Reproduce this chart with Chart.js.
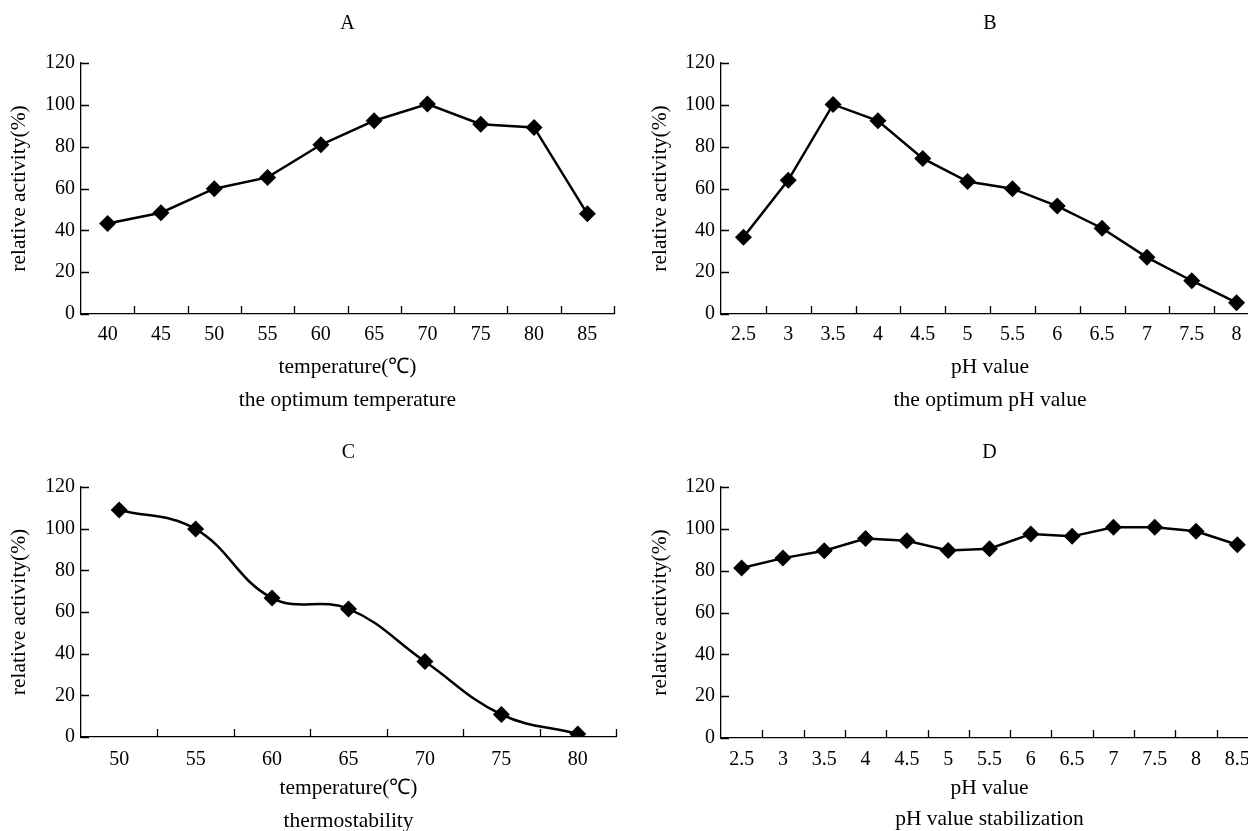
<!DOCTYPE html>
<html>
<head>
<meta charset="utf-8">
<script src="https://cdn.jsdelivr.net/npm/chart.js@4"></script>
<style>
  body { margin: 0; width: 1248px; height: 831px; overflow: hidden; background: #fff; position: relative; }
  canvas { position: absolute; }
</style>
</head>
<body>
<canvas id="chartA"></canvas>
<canvas id="chartB"></canvas>
<canvas id="chartC"></canvas>
<canvas id="chartD"></canvas>
<script>
// values
const tempA = ["40", "45", "50", "55", "60", "65", "70", "75", "80", "85"];
const activityA = [43.3, 48.4, 59.9, 65.3, 80.9, 92.4, 100.4, 90.7, 89.2, 47.9];

const phB = ["2.5", "3", "3.5", "4", "4.5", "5", "5.5", "6", "6.5", "7", "7.5", "8"];
const activityB = [36.7, 64.0, 100.2, 92.4, 74.4, 63.3, 59.9, 51.6, 41.0, 27.1, 15.9, 5.4];

const tempC = ["50", "55", "60", "65", "70", "75", "80"];
const activityC = [109.0, 99.8, 66.7, 61.5, 36.2, 10.8, 1.5];

const phD = ["2.5", "3", "3.5", "4", "4.5", "5", "5.5", "6", "6.5", "7", "7.5", "8", "8.5"];
const activityD = [81.3, 86.0, 89.5, 95.4, 94.3, 89.7, 90.5, 97.5, 96.4, 100.7, 100.8, 98.8, 92.4];

const yMin = 0, yMax = 120, yStep = 20;

const FONT = "'Liberation Serif', 'Times New Roman', serif";
const TICK_FS = 20;
const TEXT_FS = 21.5;
const TICK_LH = TICK_FS * 1.2;
const TEXT_LH = TEXT_FS * 1.2;

Chart.defaults.font.family = FONT;
Chart.defaults.color = "#000";

// ticks drawn inside the plot, like the original
const innerTicks = {
  id: "innerTicks",
  afterDraw(chart) {
    const { ctx, scales: { x, y } } = chart;
    ctx.save();
    ctx.strokeStyle = "#000";
    ctx.lineWidth = 1.3;
    ctx.beginPath();
    y.ticks.forEach((t, i) => {
      const py = Math.round(y.getPixelForTick(i)) + 0.5;
      ctx.moveTo(x.left, py);
      ctx.lineTo(x.left + 8, py);
    });
    const n = x.ticks.length;
    const w = (x.right - x.left) / n;
    for (let i = 1; i <= n; i++) {
      const px = Math.round(x.left + i * w) + 0.5;
      ctx.moveTo(px, y.bottom);
      ctx.lineTo(px, y.bottom - 8);
    }
    ctx.stroke();
    ctx.restore();
  },
};

function makePanel(id, g, labels, values, title, xTitle, sub, tension) {
  const cv = document.getElementById(id);
  cv.width = g.w;
  cv.height = g.h;
  cv.style.left = g.x + "px";
  cv.style.top = g.y + "px";
  const xAxisBottom = g.xTitleY + TEXT_LH / 2;

  new Chart(cv, {
    type: "line",
    data: {
      labels,
      datasets: [{
        data: values,
        borderColor: "#000",
        backgroundColor: "#000",
        borderWidth: 2.5,
        pointStyle: "rectRot",
        pointRadius: 8.5,
        pointBorderWidth: 0,
        pointBackgroundColor: "#000",
        tension,
      }],
    },
    options: {
      responsive: false,
      animation: false,
      layout: { padding: { left: 0, top: 0, bottom: 0, right: g.w - g.r } },
      plugins: {
        legend: { display: false },
        tooltip: { enabled: false },
        title: {
          display: true,
          text: title,
          fullSize: false,
          font: { size: TICK_FS, weight: "normal" },
          padding: { top: g.titleY - TICK_LH / 2, bottom: g.t - g.titleY - TICK_LH / 2 },
        },
        subtitle: {
          display: true,
          position: "bottom",
          text: sub,
          fullSize: false,
          font: { size: TEXT_FS, weight: "normal" },
          padding: { top: g.subY - TEXT_LH / 2 - xAxisBottom, bottom: g.h - g.subY - TEXT_LH / 2 },
        },
      },
      scales: {
        x: {
          offset: true,
          grid: { display: false, drawTicks: false },
          border: { display: true, color: "#000", width: 1.3 },
          ticks: { font: { size: TICK_FS }, padding: g.labelY - g.b - TICK_LH / 2, maxRotation: 0, autoSkip: false },
          title: { display: true, text: xTitle, font: { size: TEXT_FS }, padding: 0 },
          afterFit(s) { s.height = xAxisBottom - g.b; },
        },
        y: {
          min: yMin,
          max: yMax,
          grid: { display: false, drawTicks: false },
          border: { display: true, color: "#000", width: 1.3 },
          ticks: { stepSize: yStep, font: { size: TICK_FS }, padding: 6 },
          title: { display: true, text: "relative activity(%)", font: { size: TEXT_FS }, padding: g.yTitleX - TEXT_LH / 2 },
          afterFit(s) { s.width = g.l; },
        },
      },
    },
    plugins: [innerTicks],
  });
}

makePanel("chartA",
  { x: 0, y: 0, w: 630, h: 420, l: 81, r: 614, t: 63, b: 314, titleY: 24, labelY: 335, xTitleY: 367, subY: 400, yTitleX: 19 },
  tempA, activityA, "A", "temperature(℃)", "the optimum temperature", 0);

makePanel("chartB",
  { x: 630, y: 0, w: 640, h: 420, l: 91, r: 629, t: 63, b: 314, titleY: 24, labelY: 335, xTitleY: 367, subY: 400, yTitleX: 30 },
  phB, activityB, "B", "pH value", "the optimum pH value", 0);

makePanel("chartC",
  { x: 0, y: 420, w: 630, h: 420, l: 81, r: 616, t: 67, b: 317, titleY: 33, labelY: 340, xTitleY: 368, subY: 401, yTitleX: 19 },
  tempC, activityC, "C", "temperature(℃)", "thermostability", 0.4);

makePanel("chartD",
  { x: 630, y: 420, w: 640, h: 420, l: 91, r: 628, t: 67, b: 318, titleY: 33, labelY: 340, xTitleY: 368, subY: 399, yTitleX: 30 },
  phD, activityD, "D", "pH value", "pH value stabilization", 0);
</script>
</body>
</html>
